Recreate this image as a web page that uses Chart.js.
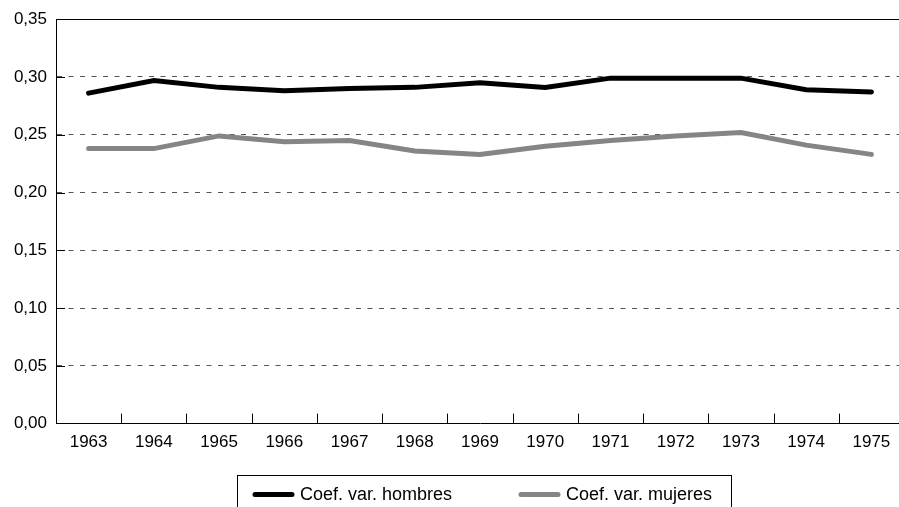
<!DOCTYPE html>
<html>
<head>
<meta charset="utf-8">
<style>
  html, body { margin: 0; padding: 0; background: #fff; overflow: hidden; }
  #wrap { width: 906px; height: 507px; }
</style>
<script src="https://cdn.jsdelivr.net/npm/chart.js@4/dist/chart.umd.min.js"></script>
</head>
<body>
<div id="wrap"><canvas id="cvChart" width="906" height="507"></canvas></div>
<script>
// datos
const years = ['1963', '1964', '1965', '1966', '1967', '1968', '1969', '1970', '1971', '1972', '1973', '1974', '1975'];
const cvHombres = [0.286, 0.297, 0.291, 0.288, 0.290, 0.291, 0.295, 0.291, 0.299, 0.299, 0.299, 0.289, 0.287];
const cvMujeres = [0.238, 0.238, 0.249, 0.244, 0.245, 0.236, 0.233, 0.240, 0.245, 0.249, 0.252, 0.241, 0.233];
const yTicks = [0, 0.05, 0.10, 0.15, 0.20, 0.25, 0.30, 0.35];

const FONT = '"Liberation Sans", Arial, sans-serif';

// marcas hacia dentro, linea superior y leyenda con recuadro
const extras = {
    id: 'extras',
    beforeDatasetsDraw(chart) {
        const {ctx, chartArea, scales: {x, y}} = chart;
        ctx.save();
        ctx.strokeStyle = '#000';
        ctx.lineWidth = 1;
        ctx.beginPath();
        // linea superior
        ctx.moveTo(chartArea.left, Math.round(chartArea.top) + 0.5);
        ctx.lineTo(chartArea.right, Math.round(chartArea.top) + 0.5);
        // marcas eje x
        for (let i = 0; i < years.length - 1; i++) {
            const px = Math.round((x.getPixelForValue(i) + x.getPixelForValue(i + 1)) / 2) + 0.5;
            ctx.moveTo(px, chartArea.bottom);
            ctx.lineTo(px, chartArea.bottom - 10);
        }
        // marcas eje y
        yTicks.forEach(v => {
            if (v === 0) return;
            const py = Math.round(y.getPixelForValue(v)) + 0.5;
            ctx.moveTo(chartArea.left, py);
            ctx.lineTo(chartArea.left + 9, py);
        });
        ctx.stroke();
        ctx.restore();
    },
    afterDraw(chart) {
        const ctx = chart.ctx;
        const sets = chart.data.datasets;
        const boxLeft = 237, boxTop = 475, boxW = 494, boxH = 60;
        const itemX = [boxLeft + 16, boxLeft + 282];
        const midY = 494.5;
        ctx.save();
        ctx.strokeStyle = '#000';
        ctx.lineWidth = 1;
        ctx.strokeRect(boxLeft + 0.5, boxTop + 0.5, boxW, boxH);
        ctx.font = '18px ' + FONT;
        ctx.textBaseline = 'middle';
        ctx.fillStyle = '#000';
        sets.forEach((ds, i) => {
            ctx.beginPath();
            ctx.lineCap = 'round';
            ctx.lineWidth = ds.borderWidth;
            ctx.strokeStyle = ds.borderColor;
            ctx.moveTo(itemX[i] + 2, midY);
            ctx.lineTo(itemX[i] + 39, midY);
            ctx.stroke();
            ctx.fillText(ds.label, itemX[i] + 47, midY + 1);
        });
        ctx.restore();
    }
};

new Chart(document.getElementById('cvChart'), {
    type: 'line',
    data: {
        labels: years,
        datasets: [{
            label: 'Coef. var. hombres',
            data: cvHombres,
            borderColor: '#000000',
            borderWidth: 5,
            borderCapStyle: 'round',
            pointRadius: 0,
            tension: 0
        }, {
            label: 'Coef. var. mujeres',
            data: cvMujeres,
            borderColor: '#858585',
            borderWidth: 5,
            borderCapStyle: 'round',
            pointRadius: 0,
            tension: 0
        }]
    },
    options: {
        responsive: false,
        animation: false,
        layout: { padding: { left: 0, right: 2, top: 18, bottom: 45 } },
        plugins: {
            legend: { display: false },
            tooltip: { enabled: false }
        },
        scales: {
            x: {
                offset: true,
                grid: { display: false, drawTicks: false },
                border: { display: true, color: '#000', width: 1 },
                ticks: {
                    color: '#000',
                    padding: 9,
                    maxRotation: 0,
                    autoSkip: false,
                    font: { family: FONT, size: 17 }
                }
            },
            y: {
                min: 0,
                max: 0.35,
                afterFit: s => { s.width = 56; },
                afterBuildTicks: s => { s.ticks = yTicks.map(v => ({ value: v })); },
                grid: { color: '#555', lineWidth: 1, drawTicks: false },
                border: { display: true, color: '#000', width: 1, dash: [5, 6.5] },
                ticks: {
                    color: '#000',
                    padding: 9,
                    font: { family: FONT, size: 17 },
                    callback: v => v.toFixed(2).replace('.', ',')
                }
            }
        }
    },
    plugins: [extras]
});
</script>
</body>
</html>
